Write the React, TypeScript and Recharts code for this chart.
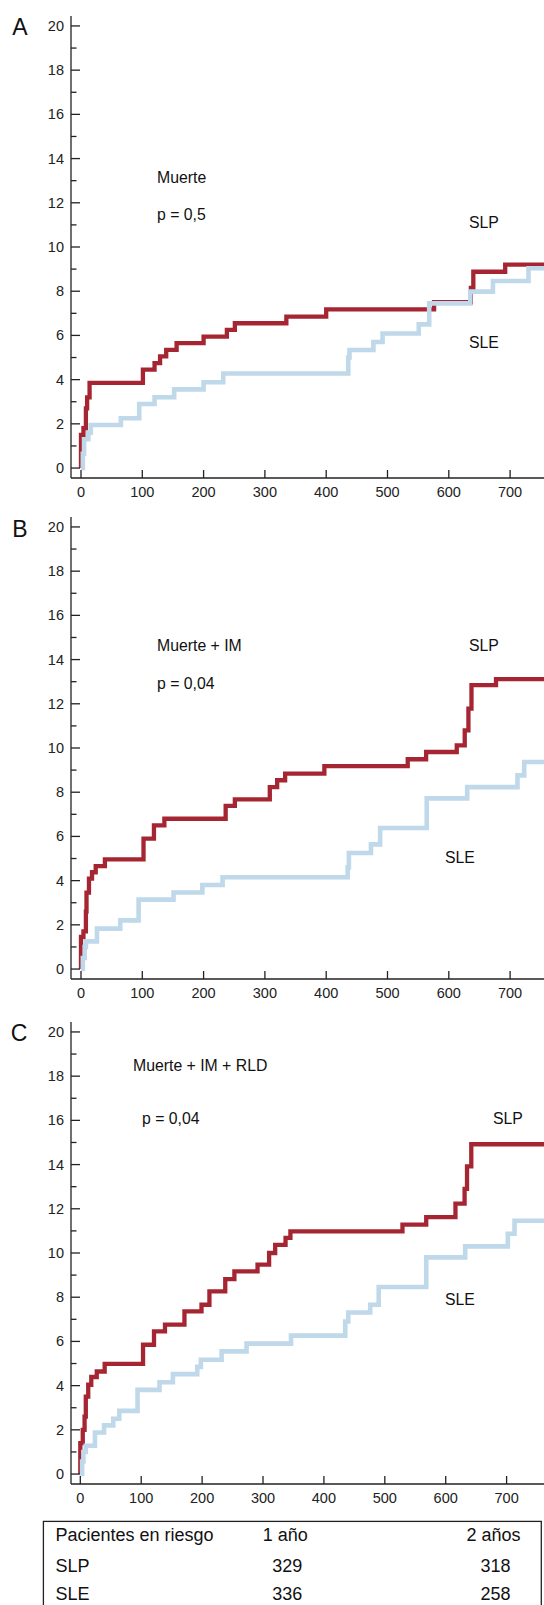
import React from "react";
import { LineChart, Line, XAxis, YAxis } from "recharts";

// cumulative incidence (%), step values start at the given day
const A_SLP_DAYS = [0, 0, 4, 8, 10, 14, 101, 120, 129, 139, 156, 200, 238, 251, 335, 400, 576, 636, 640, 692, 760];
const A_SLP_VALS = [0, 1.5, 1.8, 2.7, 3.2, 3.85, 4.45, 4.75, 5.05, 5.35, 5.65, 5.95, 6.25, 6.55, 6.85, 7.18, 7.5, 8.15, 8.88, 9.2, 9.2];
const A_SLE_DAYS = [0, 3, 5, 12, 16, 65, 95, 120, 152, 200, 232, 436, 438, 477, 492, 551, 568, 635, 672, 730, 760];
const A_SLE_VALS = [0, 0.65, 1.3, 1.6, 1.95, 2.25, 2.9, 3.2, 3.56, 3.88, 4.28, 5.0, 5.34, 5.7, 6.09, 6.5, 7.45, 7.98, 8.46, 9.04, 9.04];

const B_SLP_DAYS = [0, 0, 4, 8, 9, 13, 18, 24, 39, 102, 119, 136, 236, 251, 308, 320, 333, 397, 533, 563, 613, 626, 632, 637, 677, 760];
const B_SLP_VALS = [0, 1.45, 1.7, 2.6, 3.46, 4.09, 4.38, 4.66, 4.96, 5.9, 6.5, 6.8, 7.38, 7.68, 8.23, 8.54, 8.84, 9.18, 9.49, 9.82, 10.12, 10.8, 11.78, 12.84, 13.12, 13.12];
const B_SLE_DAYS = [0, 3, 6, 8, 26, 64, 94, 151, 198, 231, 435, 437, 473, 488, 564, 630, 712, 723, 760];
const B_SLE_VALS = [0, 0.5, 1.0, 1.25, 1.83, 2.2, 3.14, 3.46, 3.8, 4.15, 4.6, 5.25, 5.64, 6.38, 7.72, 8.23, 8.76, 9.37, 9.37];

const C_SLP_DAYS = [0, 0, 4, 7, 9, 13, 18, 27, 40, 103, 121, 139, 171, 199, 212, 238, 253, 291, 310, 320, 337, 345, 529, 568, 616, 631, 635, 642, 765];
const C_SLP_VALS = [0, 1.4, 2.0, 2.6, 3.5, 4.04, 4.39, 4.64, 4.98, 5.85, 6.45, 6.76, 7.36, 7.66, 8.26, 8.82, 9.17, 9.47, 10.0, 10.37, 10.68, 10.98, 11.28, 11.62, 12.23, 12.9, 13.92, 14.92, 14.92];
const C_SLE_DAYS = [0, 3, 5, 9, 24, 39, 54, 64, 94, 130, 152, 192, 198, 232, 273, 346, 435, 440, 476, 490, 568, 632, 702, 713, 765];
const C_SLE_VALS = [0, 0.57, 1.0, 1.28, 1.88, 2.2, 2.5, 2.86, 3.81, 4.15, 4.52, 4.85, 5.17, 5.55, 5.9, 6.26, 6.9, 7.31, 7.66, 8.46, 9.8, 10.3, 10.87, 11.46, 11.46];

const X_TICKS = [0, 100, 200, 300, 400, 500, 600, 700];
const Y_TICKS = Array.from({ length: 21 }, (_, i) => i);

const RISK_HEADER = ["Pacientes en riesgo", "1 año", "2 años"];
const RISK_SLP = ["SLP", "329", "318"];
const RISK_SLE = ["SLE", "336", "258"];

const RED = "#a52632";
const BLUE = "#bfd8ea";
const INK = "#222";
const FONT = "'Liberation Sans', Arial, sans-serif";

const toRows = (days: number[], vals: number[]) =>
  days.map((d, i) => ({ d, v: vals[i] }));

const YTick = (props: any) => {
  const { x, y, payload } = props;
  const v = payload.value;
  const major = v % 2 === 0;
  return (
    <g>
      <line x1={x} x2={x + (major ? 9 : 5.5)} y1={y} y2={y} stroke={INK} strokeWidth={1.3} />
      {major && (
        <text x={x - 7} y={y} textAnchor="end" dominantBaseline="central" fontSize={14.5} fill={INK} fontFamily={FONT}>
          {v}
        </text>
      )}
    </g>
  );
};

const XTick = (props: any) => {
  const { x, y, payload } = props;
  return (
    <g>
      <line x1={x} x2={x} y1={y} y2={y - 8} stroke={INK} strokeWidth={1.3} />
      <text x={x} y={y + 13.5} textAnchor="middle" dominantBaseline="central" fontSize={14.5} fill={INK} fontFamily={FONT}>
        {payload.value}
      </text>
    </g>
  );
};

function Panel({ top, slp, sle, xDomain }: { top: number; slp: any[]; sle: any[]; xDomain: number[] }) {
  return (
    <div style={{ position: "absolute", left: 0, top: top - 10 }}>
      <LineChart width={544} height={502} margin={{ top: 10, right: 0, bottom: 0, left: 0 }}>
        <XAxis
          type="number"
          dataKey="d"
          domain={xDomain}
          allowDataOverflow
          ticks={X_TICKS}
          interval={0}
          height={30}
          tickSize={0}
          tickMargin={0}
          tick={<XTick />}
          axisLine={{ stroke: INK, strokeWidth: 1.3 }}
        />
        <YAxis
          type="number"
          domain={[-0.45, 20.45]}
          allowDataOverflow
          ticks={Y_TICKS}
          interval={0}
          width={71}
          tickSize={0}
          tickMargin={0}
          tick={<YTick />}
          axisLine={{ stroke: INK, strokeWidth: 1.3 }}
        />
        <Line data={slp} dataKey="v" type="stepAfter" stroke={RED} strokeWidth={4.3} dot={false} isAnimationActive={false} />
        <Line data={sle} dataKey="v" type="stepAfter" stroke={BLUE} strokeWidth={4.6} dot={false} isAnimationActive={false} />
      </LineChart>
    </div>
  );
}

const Txt = ({ x, y, size = 15.8, anchor = "start", children }: any) => (
  <text x={x} y={y} fontSize={size} textAnchor={anchor} dominantBaseline="central" fill="#111" fontFamily={FONT}>
    {children}
  </text>
);

export default function App() {
  return (
    <div style={{ position: "absolute", left: 0, top: 0, width: 544, height: 1605, background: "#fff", overflow: "hidden" }}>
      <Panel top={16} slp={toRows(A_SLP_DAYS, A_SLP_VALS)} sle={toRows(A_SLE_DAYS, A_SLE_VALS)} xDomain={[-16.3, 755.3]} />
      <Panel top={517} slp={toRows(B_SLP_DAYS, B_SLP_VALS)} sle={toRows(B_SLE_DAYS, B_SLE_VALS)} xDomain={[-16.3, 755.3]} />
      <Panel top={1022} slp={toRows(C_SLP_DAYS, C_SLP_VALS)} sle={toRows(C_SLE_DAYS, C_SLE_VALS)} xDomain={[-15.3, 761.4]} />
      <svg width={544} height={1605} style={{ position: "absolute", left: 0, top: 0, pointerEvents: "none" }}>
        <Txt x={20} y={27} size={23} anchor="middle">A</Txt>
        <Txt x={157} y={177}>Muerte</Txt>
        <Txt x={157} y={214}>p = 0,5</Txt>
        <Txt x={469} y={222}>SLP</Txt>
        <Txt x={469} y={342}>SLE</Txt>

        <Txt x={20} y={529} size={23} anchor="middle">B</Txt>
        <Txt x={157} y={645}>Muerte + IM</Txt>
        <Txt x={157} y={683}>p = 0,04</Txt>
        <Txt x={469} y={645}>SLP</Txt>
        <Txt x={445} y={857}>SLE</Txt>

        <Txt x={19} y={1033} size={23} anchor="middle">C</Txt>
        <Txt x={133} y={1065}>Muerte + IM + RLD</Txt>
        <Txt x={142} y={1118}>p = 0,04</Txt>
        <Txt x={493} y={1118}>SLP</Txt>
        <Txt x={445} y={1299}>SLE</Txt>

        <rect x={43.4} y={1521.4} width={497.9} height={100} fill="none" stroke={INK} strokeWidth={1.3} />
        <Txt x={55.5} y={1535} size={18}>{RISK_HEADER[0]}</Txt>
        <Txt x={262.7} y={1535} size={18}>{RISK_HEADER[1]}</Txt>
        <Txt x={520.5} y={1535} size={18} anchor="end">{RISK_HEADER[2]}</Txt>
        <Txt x={55.5} y={1566} size={18}>{RISK_SLP[0]}</Txt>
        <Txt x={287.3} y={1566} size={18} anchor="middle">{RISK_SLP[1]}</Txt>
        <Txt x={495.5} y={1566} size={18} anchor="middle">{RISK_SLP[2]}</Txt>
        <Txt x={55.5} y={1594} size={18}>{RISK_SLE[0]}</Txt>
        <Txt x={287.3} y={1594} size={18} anchor="middle">{RISK_SLE[1]}</Txt>
        <Txt x={495.5} y={1594} size={18} anchor="middle">{RISK_SLE[2]}</Txt>
      </svg>
    </div>
  );
}
